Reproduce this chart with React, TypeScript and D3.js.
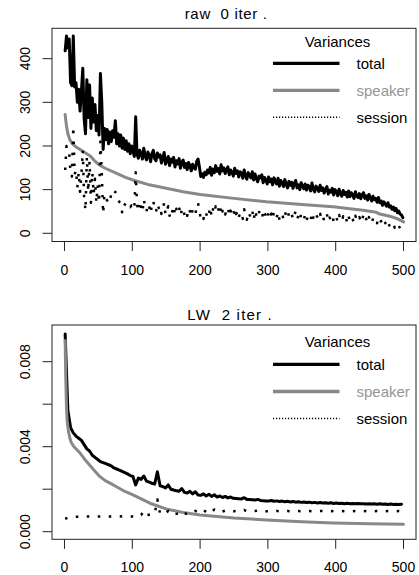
import React from "react";
import * as d3 from "d3";

// iteration grids
const ITER_RAW = d3.range(1, 501, 2);
const ITER_LW = d3.range(1, 501, 4);

// raw, 0 iter.
const RAW_TOTAL = [
  418, 452, 425, 445, 345, 338, 452, 335, 345, 300, 330, 280, 325, 378, 262, 228, 352, 265, 340, 240,
  310, 255, 295, 235, 270, 225, 366, 300, 192, 240, 215, 238, 205, 232, 210, 235, 220, 258, 205, 228,
  200, 225, 195, 218, 192, 212, 188, 205, 182, 200,
  188, 176, 267, 181, 172, 190, 183, 170, 195, 177,
  168, 186, 179, 164, 182, 190, 171, 166, 184, 175,
  180, 161, 172, 185, 158, 167, 176, 155, 170, 163,
  174, 152, 166, 159, 171, 149, 163, 168, 151, 160,
  146, 162, 155, 143, 158, 150, 147, 165, 170, 152,
  130, 136, 128, 140, 134, 145, 138, 151, 133, 147,
  139, 155, 142, 148, 136, 157, 143, 150, 137, 146,
  152, 134, 145, 140, 131, 149, 137, 143, 129, 141,
  138, 126, 145, 131, 124, 139, 133, 127, 141, 122,
  136, 125, 118, 131, 127, 134, 116, 128, 122, 113,
  129, 118, 124, 111, 127, 119, 113, 126, 108, 121,
  116, 107, 123, 112, 104, 119, 110, 117, 103, 114,
  121, 104, 111, 100, 116, 108, 102, 113, 99, 110,
  106, 97, 115, 101, 95, 108, 103, 96, 110, 98,
  104, 92, 101, 107, 90, 99, 94, 103, 88, 100,
  96, 86, 101, 91, 85, 98, 89, 94, 83, 97,
  84, 93, 88, 80, 95, 86, 82, 91, 79, 88,
  93, 80, 86, 76, 89, 82, 74, 85, 77, 80,
  71, 82, 70, 74, 64, 72, 67, 62, 70, 60,
  63, 55, 60, 52, 57, 47, 51, 44, 42, 36,
];
const RAW_SESSION = [
  145, 200, 190, 185, 135, 130, 245, 135, 145, 105, 140, 95, 135, 190, 80, 52, 175, 95, 165, 70,
  140, 90, 125, 70, 110, 70, 210, 140, 45, 90, 80, 75, 85, 78, 88, 92, 86, 95, 80, 76,
  72, 70, 48, 68, 66, 64, 70, 62, 60, 64,
  62, 55, 140, 66, 50, 74, 61, 48, 78, 58,
  50, 68, 60, 45, 66, 75, 54, 49, 68, 58,
  64, 44, 55, 70, 42, 52, 62, 40, 57, 50,
  63, 41, 56, 49, 61, 40, 53, 59, 42, 51,
  40, 58, 50, 38, 55, 47, 43, 62, 70, 49,
  35, 42, 33, 48, 40, 53, 44, 60, 38, 55,
  45, 62, 48, 55, 42, 65, 50, 57, 43, 53,
  60, 40, 52, 47, 37, 57, 44, 50, 35, 49,
  46, 33, 55, 40, 31, 49, 42, 36, 51, 30,
  53, 41, 34, 49, 44, 52, 33, 46, 40, 31,
  51, 39, 45, 33, 50, 42, 36, 49, 31, 44,
  43, 34, 50, 40, 32, 47, 39, 45, 31, 43,
  50, 33, 40, 29, 45, 38, 32, 43, 29, 40,
  39, 30, 48, 35, 29, 42, 37, 31, 45, 33,
  40, 28, 37, 44, 27, 36, 31, 41, 26, 38,
  36, 26, 42, 32, 26, 39, 30, 36, 24, 39,
  28, 37, 32, 24, 40, 31, 27, 37, 24, 34,
  40, 26, 33, 23, 37, 30, 22, 34, 26, 30,
  23, 34, 24, 28, 19, 28, 24, 19, 28, 18,
  21, 14, 20, 13, 19, 12, 17, 11, 14, 15,
];
const RAW_SPEAKER_ITER = [1, 3, 5, 8, 12, 16, 23, 30, 38, 45, 52, 60, 77, 90, 101, 125, 150, 175, 200, 250, 298, 350, 396, 440, 460, 465, 480, 490, 500];
const RAW_SPEAKER = [272, 245, 228, 214, 205, 199, 192, 185, 177, 165, 156, 149, 137, 128, 122, 111, 103, 95, 89, 80, 72, 66, 61, 53, 48, 44, 39, 34, 26];

// LW, 2 iter.
const LW_TOTAL = [
  0.0093, 0.0057, 0.0049, 0.00465, 0.0045, 0.0044, 0.0043, 0.0041, 0.0039, 0.0038,
  0.0036, 0.0035, 0.0034, 0.0033, 0.00325, 0.0032, 0.00315, 0.0031, 0.003, 0.00295,
  0.0029, 0.00284, 0.00278, 0.00272, 0.00264, 0.0026, 0.0022, 0.00252, 0.00246, 0.00262,
  0.00238, 0.00233, 0.00228, 0.00224, 0.00282, 0.00216, 0.00212, 0.00206, 0.0022, 0.002,
  0.00196, 0.00193, 0.0019, 0.00203, 0.00185, 0.00182, 0.0019, 0.00178, 0.00188, 0.00173,
  0.00171, 0.00178, 0.00168, 0.00176, 0.00166, 0.00174, 0.00163, 0.00168, 0.00161, 0.00166,
  0.00159, 0.00163, 0.00157, 0.00156, 0.00155, 0.00154, 0.0016, 0.00152, 0.00151, 0.0015,
  0.00149, 0.00152, 0.00147, 0.00146, 0.00145, 0.00144, 0.00147, 0.00143, 0.00145, 0.00142,
  0.00144, 0.00141, 0.00143, 0.0014, 0.00142, 0.00139, 0.00141, 0.00138, 0.0014, 0.00137,
  0.00139, 0.00136, 0.00138, 0.00135, 0.00137, 0.00135, 0.00136, 0.00134, 0.00136, 0.00133,
  0.00135, 0.00133, 0.00134, 0.00132, 0.00134, 0.00132, 0.00133, 0.00131, 0.00133, 0.00131,
  0.00132, 0.0013, 0.00132, 0.0013, 0.00131, 0.00129, 0.00131, 0.00129, 0.0013, 0.00128,
  0.0013, 0.00128, 0.00129, 0.00128, 0.00129,
];
const LW_SESSION = [
  0.0006, 0.00066, 0.00068, 0.00069, 0.0007, 0.0007, 0.00071, 0.00071, 0.00072, 0.00071,
  0.00072, 0.00072, 0.00071, 0.00072, 0.00072, 0.00073, 0.00072, 0.00072, 0.00073, 0.00072,
  0.00073, 0.00072, 0.00073, 0.00072, 0.00072, 0.00071, 0.00068, 0.00076, 0.00078, 0.00098,
  0.00078, 0.0008, 0.00082, 0.00084, 0.00152, 0.00084, 0.00086, 0.00085, 0.00098, 0.00082,
  0.00083, 0.00084, 0.00085, 0.00096, 0.00084, 0.00086, 0.00092, 0.00088, 0.00098, 0.0009,
  0.00092, 0.00102, 0.00093, 0.00103, 0.00094, 0.00104, 0.00095, 0.001, 0.00095, 0.00099,
  0.00095, 0.00098, 0.00096, 0.00097, 0.00096, 0.00097, 0.00102, 0.00096, 0.00097, 0.00096,
  0.00097, 0.001, 0.00096, 0.00097, 0.00096, 0.00097, 0.00099, 0.00096, 0.00098, 0.00096,
  0.00098, 0.00096, 0.00097, 0.00096, 0.00098, 0.00096, 0.00097, 0.00096, 0.00097, 0.00096,
  0.00097, 0.00096, 0.00097, 0.00096, 0.00097, 0.00097, 0.00096, 0.00097, 0.00096, 0.00097,
  0.00096, 0.00097, 0.00096, 0.00097, 0.00096, 0.00097, 0.00096, 0.00097, 0.00096, 0.00097,
  0.00096, 0.00097, 0.00096, 0.00097, 0.00096, 0.00097, 0.00096, 0.00097, 0.00096, 0.00097,
  0.00096, 0.00097, 0.00096, 0.00097, 0.00096,
];
const LW_SPEAKER_ITER = [1, 2, 3, 4, 6, 8, 10, 14, 23, 30, 38, 45, 52, 60, 72, 90, 101, 126, 150, 175, 200, 250, 298, 350, 396, 450, 500];
const LW_SPEAKER = [
  0.009, 0.0071, 0.0058, 0.0052, 0.0047, 0.0044, 0.0042, 0.0040, 0.0037, 0.0034, 0.0031, 0.00285, 0.0026,
  0.0024, 0.0022, 0.00188, 0.00173, 0.00134, 0.00107, 0.0009, 0.00079, 0.00065, 0.00055, 0.00047, 0.00041,
  0.00037, 0.00035,
];

const X_TICKS = [0, 100, 200, 300, 400, 500];
const RAW_Y_TICKS = [0, 100, 200, 300, 400];
const RAW_Y_LABELS = ["0", "100", "200", "300", "400"];
const LW_Y_TICKS = [0, 0.002, 0.004, 0.006, 0.008];
const LW_Y_LABELS = ["0.000", "", "0.004", "", "0.008"];
const LEGEND_KEYS = ["total", "speaker", "session"];

const FONT = "'Liberation Sans', Arial, Helvetica, sans-serif";
const GRAY = "#888888";
const LEFT = 52;
const RIGHT = 416;
const TICK = 9.5;

const xScale = d3.scaleLinear().domain([-18.4, 518.4]).range([LEFT, RIGHT]);

const lineStyle = {
  total: { stroke: "#000", width: 3, dash: null, legendDash: null, text: "#000" },
  speaker: { stroke: GRAY, width: 3, dash: null, legendDash: null, text: "#959595" },
  session: { stroke: "#000", width: 2.5, dash: "2.5 8.5", legendDash: "1.2 1.8", text: "#000" },
};

const Panel = ({ title, titleX, titleLen, titleY, top, bottom, yDomain, yTicks, yLabels, series, legend }) => {
  const yScale = d3.scaleLinear().domain(yDomain).range([bottom, top]);
  const line = d3
    .line()
    .x((d) => xScale(d[0]))
    .y((d) => yScale(d[1]));

  return (
    <g fontFamily={FONT}>
      <text x={titleX} y={titleY} fontSize={15} textLength={titleLen} lengthAdjust="spacing" style={{ whiteSpace: "pre" }}>
        {title}
      </text>

      {series.map((s) => {
        const st = lineStyle[s.key];
        const pts = s.iter.map((it, i) => [it, s.values[i]]);
        return (
          <path
            key={s.key}
            d={line(pts)}
            fill="none"
            stroke={st.stroke}
            strokeWidth={st.width}
            strokeDasharray={st.dash || undefined}
            strokeLinejoin="round"
            strokeLinecap={st.dash ? "butt" : "round"}
          />
        );
      })}

      <rect x={LEFT} y={top} width={RIGHT - LEFT} height={bottom - top} fill="none" stroke="#222" strokeWidth={1} />

      {/* x axis */}
      {X_TICKS.map((t) => (
        <g key={t}>
          <line x1={xScale(t)} x2={xScale(t)} y1={bottom} y2={bottom + TICK} stroke="#222" />
          <text x={xScale(t)} y={bottom + 33} fontSize={14} textAnchor="middle">
            {t}
          </text>
        </g>
      ))}

      {/* y axis */}
      {yTicks.map((t, i) => (
        <g key={t}>
          <line x1={LEFT - TICK} x2={LEFT} y1={yScale(t)} y2={yScale(t)} stroke="#222" />
          {yLabels[i] && (
            <text transform={`translate(29.5,${yScale(t)}) rotate(-90)`} fontSize={14} textAnchor="middle">
              {yLabels[i]}
            </text>
          )}
        </g>
      ))}

      {/* legend */}
      <text x={337.5} y={legend.titleY} fontSize={15} textAnchor="middle">
        Variances
      </text>
      {LEGEND_KEYS.map((k, i) => {
        const st = lineStyle[k];
        const y = legend.rows[i];
        return (
          <g key={k}>
            <line
              x1={273}
              x2={339.5}
              y1={y}
              y2={y}
              stroke={st.stroke}
              strokeWidth={st.dash ? 1.5 : 3.3}
              strokeDasharray={st.legendDash || undefined}
            />
            <text x={356.5} y={y + 5.3} fontSize={15} fill={st.text}>
              {k}
            </text>
          </g>
        );
      })}
    </g>
  );
};

export default function App() {
  return (
    <svg width={419} height={575} style={{ position: "absolute", left: 0, top: 0, background: "#fff" }}>
      <Panel
        title="raw  0 iter ."
        titleX={184.7}
        titleLen={82.3}
        titleY={19}
        top={28.3}
        bottom={241.5}
        yDomain={[-18.8, 469.6]}
        yTicks={RAW_Y_TICKS}
        yLabels={RAW_Y_LABELS}
        series={[
          { key: "total", iter: ITER_RAW, values: RAW_TOTAL },
          { key: "speaker", iter: RAW_SPEAKER_ITER, values: RAW_SPEAKER },
          { key: "session", iter: ITER_RAW, values: RAW_SESSION },
        ]}
        legend={{ titleY: 47, rows: [63.3, 90.3, 117.3] }}
      />
      <Panel
        title="LW  2 iter ."
        titleX={187.3}
        titleLen={84.4}
        titleY={320}
        top={325}
        bottom={539.3}
        yDomain={[-0.000358, 0.009727]}
        yTicks={LW_Y_TICKS}
        yLabels={LW_Y_LABELS}
        series={[
          { key: "total", iter: ITER_LW, values: LW_TOTAL },
          { key: "speaker", iter: LW_SPEAKER_ITER, values: LW_SPEAKER },
          { key: "session", iter: ITER_LW, values: LW_SESSION },
        ]}
        legend={{ titleY: 347, rows: [364.3, 391.5, 418.5] }}
      />
    </svg>
  );
}
